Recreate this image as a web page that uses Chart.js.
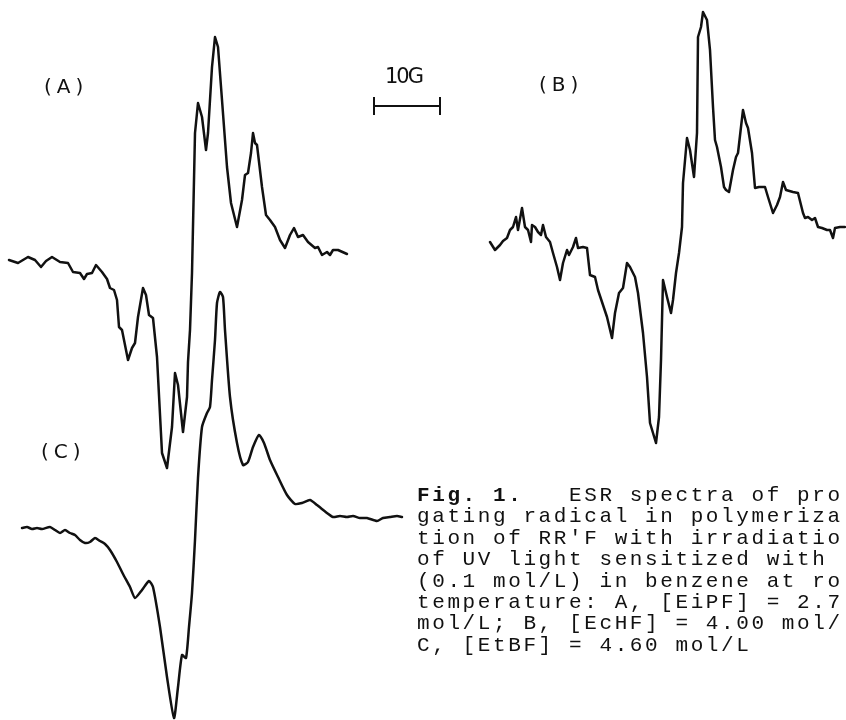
<!DOCTYPE html>
<html>
<head>
<meta charset="utf-8">
<script src="https://cdn.jsdelivr.net/npm/chart.js@4.4.1/dist/chart.umd.min.js"></script>
<style>
  html, body { margin: 0; padding: 0; background: #fff; }
  #wrap { position: relative; width: 846px; height: 720px; overflow: hidden; background: #fff; }
  #c { position: absolute; left: 0; top: 0; }
  .lbl { position: absolute; font-family: "DejaVu Sans", sans-serif; font-size: 20px; line-height: 20px; letter-spacing: 5px; color: #111; white-space: nowrap; }
  #g10 { position: absolute; left: 385px; top: 66px; font-family: "DejaVu Sans", sans-serif; font-size: 21px; line-height: 21px; letter-spacing: -2px; color: #111; }
  #bar { position: absolute; left: 373px; top: 97px; width: 64px; height: 18px; border-left: 2px solid #111; border-right: 2px solid #111; }
  #bar::after { content: ""; position: absolute; left: 0; right: 0; top: 8px; border-top: 2px solid #111; }
  #cap { position: absolute; left: 417px; top: 485px; margin: 0; font-family: "Liberation Mono", "Courier New", monospace; font-size: 21px; letter-spacing: 2.6px; line-height: 21.4px; color: #111; white-space: pre; }
</style>
</head>
<body>
<div id="wrap">
  <canvas id="c" width="846" height="720"></canvas>
  <div class="lbl" style="left:44px; top:76px;">(A)</div>
  <div class="lbl" style="left:539px; top:74px;">(B)</div>
  <div class="lbl" style="left:41px; top:441px;">(C)</div>
  <div id="g10">10G</div>
  <div id="bar"></div>
<pre id="cap"><b>Fig. 1.</b>   ESR spectra of pro
gating radical in polymeriza
tion of RR'F with irradiatio
of UV light sensitized with
(0.1 mol/L) in benzene at ro
temperature: A, [EiPF] = 2.7
mol/L; B, [EcHF] = 4.00 mol/
C, [EtBF] = 4.60 mol/L</pre>
</div>
<script>
// Spectrum A: field offset (a.u.) and derivative signal (a.u.)
const fieldA = [1,10,20,27,33,38,44,52,60,65, 72,76,79,84,88,94,99,102,106,109,
  111,114,120,124,127,130,135,138,141,145, 149,154,159,164,167,170,175,179,180,182,
  184,187,190,194,198,200,204,207,210,214, 219,223,229,234,237,240,243,245,247,249,
  254,258,262,267,272,277,282,286,290,295, 300,307,310,314,319,322,325,330,339];
const signalA = [2,-1,5,2,-5,1,5,0,-1,-10, -11,-17,-12,-11,-3,-10,-17,-26,-28,-38,
  -65,-68,-98,-86,-81,-55,-26,-33,-53,-56, -95,-191,-206,-165,-111,-123,-170,-135,-100,-68,
  -11,129,159,145,112,129,195,225,215,162, 95,59,35,62,87,89,109,129,119,117,
  75,47,42,35,22,14,27,34,25,27, 20,14,15,7,10,7,12,12,8];

// Spectrum B
const fieldB = [0,5,10,13,17,20,23,26,28,32, 35,38,41,42,45,48,51,53,56,60,
  63,67,70,73,77,79,83,86,88,93, 97,100,105,108,113,117,122,125,129,133,
  137,140,145,148,153,157,160,166,169,171, 173,177,181,183,186,189,192,193,197,200,
  204,207,208,211,213,217,220,223,225,227, 231,234,236,239,243,246,248,251,253,256,
  258,262,265,269,275,278,283,287,290,293, 296,303,308,313,315,318,322,325,328,332,
  337,340,343,345,350,355];
const signalB = [0,-8,-3,1,4,12,15,25,12,34, 15,12,0,17,15,10,7,17,5,0,
  -11,-25,-38,-21,-8,-13,-5,4,-6,-5, -6,-33,-35,-48,-63,-75,-96,-71,-51,-46,
  -21,-25,-35,-51,-91,-135,-181,-201,-175,-118, -38,-55,-71,-58,-31,-11,15,59,104,92,
  65,109,205,215,230,222,192,135,102,95, 75,55,52,50,72,85,89,115,132,119,
  114,89,54,55,55,45,29,37,45,60, 52,50,49,29,24,25,22,24,15,14,
  12,12,4,14,15,15];

// Spectrum C
const fieldC = [2,7,12,17,22,30,35,40,45,50, 55,60,65,70,75,80,85,90,97,103,
  110,115,122,129,133,140,147,154,158,162, 166,169,172,175,178,182,187,190,192,195,
  197,200,203,205,210,217,223,228,233,239, 244,250,258,267,275,282,290,297,307,313,
  320,327,333,340,347,357,363,370,377,382];
const signalC = [0,1,-1,0,-1,1,-2,-5,-2,-5, -7,-12,-15,-14,-10,-13,-16,-22,-34,-46,
  -59,-70,-62,-53,-59,-99,-149,-190,-159,-127, -130,-99,-65,-12,50,101,115,121,148,188,
  225,236,231,198,131,85,63,66,81,93, 85,68,51,33,24,25,28,23,15,11,
  12,11,12,10,10,7,10,11,12,11];

// Layout: where each trace sits on the page (pixels)
const W = 846, H = 720;
const place = { A: { left: 8, base: 262 }, B: { left: 490, base: 242 }, C: { left: 20, base: 528 } };

function pts(f, s) { return f.map((v, i) => ({ x: v, y: s[i] })); }
function xs(p) { return { type: 'linear', display: false, min: -p.left, max: W - p.left }; }
function ys(p) { return { type: 'linear', display: false, min: p.base - H, max: p.base }; }

const style = { borderColor: '#111', borderWidth: 2.5, pointRadius: 0, fill: false, clip: false, borderJoinStyle: 'round', borderCapStyle: 'round' };

new Chart(document.getElementById('c'), {
  type: 'line',
  data: {
    datasets: [
      Object.assign({ label: 'A', data: pts(fieldA, signalA), xAxisID: 'xA', yAxisID: 'yA', tension: 0 }, style),
      Object.assign({ label: 'B', data: pts(fieldB, signalB), xAxisID: 'xB', yAxisID: 'yB', tension: 0 }, style),
      Object.assign({ label: 'C', data: pts(fieldC, signalC), xAxisID: 'xC', yAxisID: 'yC', tension: 0.2 }, style)
    ]
  },
  options: {
    responsive: false,
    animation: false,
    devicePixelRatio: 1,
    layout: { padding: 0 },
    plugins: { legend: { display: false }, tooltip: { enabled: false } },
    scales: {
      xA: xs(place.A), yA: ys(place.A),
      xB: xs(place.B), yB: ys(place.B),
      xC: xs(place.C), yC: ys(place.C)
    }
  }
});
</script>
</body>
</html>
